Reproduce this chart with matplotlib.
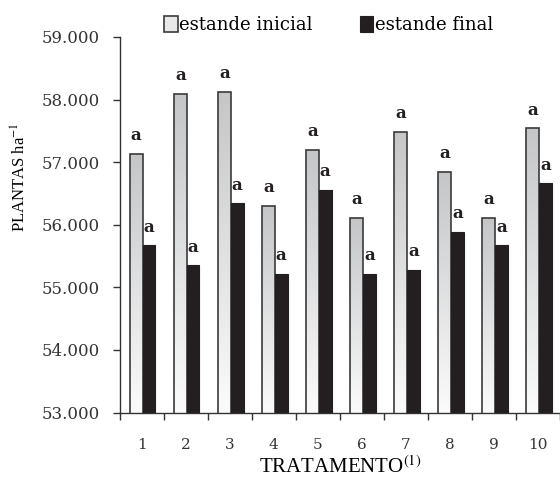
import numpy as np
import matplotlib.pyplot as plt
from matplotlib.colors import LinearSegmentedColormap
from matplotlib.ticker import FuncFormatter

# valores (plantas por hectare)
tratamentos = ['1', '2', '3', '4', '5', '6', '7', '8', '9', '10']
estande_inicial = [57130, 58090, 58120, 56300, 57200, 56110, 57480, 56840, 56110, 57540]
estande_final = [55670, 55350, 56340, 55220, 56560, 55220, 55280, 55890, 55670, 56660]
letras_inicial = ['a'] * 10
letras_final = ['a'] * 10

plt.rcParams['mathtext.fontset'] = 'stix'

fig = plt.figure(figsize=(5.6, 4.79), dpi=100)
ax = fig.add_axes([0.2134, 0.1388, 0.7866, 0.784])

x = np.arange(1, len(tratamentos) + 1)
w = 0.29

# barras do estande inicial (contorno, preenchidas depois com gradiente)
bars_ini = ax.bar(x - 0.12, estande_inicial, w, bottom=0, facecolor='none',
                  edgecolor='#3a3a3a', linewidth=1.2, zorder=3)
bars_fin = ax.bar(x + 0.17, estande_final, w, color='#231f20',
                  edgecolor='#231f20', linewidth=0.8, zorder=3)

# gradiente cinza -> branco dentro das barras iniciais
cmap = LinearSegmentedColormap.from_list('g', ['#fbfbfb', '#c4c6c8'])
grad = np.linspace(0, 1, 256).reshape(-1, 1)
for b in bars_ini:
    bb = b.get_bbox()
    im = ax.imshow(grad, extent=[bb.x0, bb.x1, 53000, bb.y1], origin='lower',
                   aspect='auto', cmap=cmap, vmin=0, vmax=1, zorder=2)
    im.set_clip_path(b)

# letras de significancia
for b, t in zip(bars_ini, letras_inicial):
    ax.annotate(t, (b.get_x() + b.get_width() / 2, b.get_height()),
                xytext=(0, 7), textcoords='offset points', ha='center',
                va='bottom', fontsize=12, fontweight='bold',
                family='DejaVu Serif', color='#231f20')
for b, t in zip(bars_fin, letras_final):
    ax.annotate(t, (b.get_x() + b.get_width() / 2, b.get_height()),
                xytext=(0, 7), textcoords='offset points', ha='center',
                va='bottom', fontsize=12, fontweight='bold',
                family='DejaVu Serif', color='#231f20')

ax.set_xlim(0.5, 10.455)
ax.set_ylim(53000, 59000)

ax.spines['top'].set_visible(False)
ax.spines['right'].set_visible(False)
for s in ['left', 'bottom']:
    ax.spines[s].set_color('#333333')
    ax.spines[s].set_linewidth(1.0)

ax.set_yticks(np.arange(53000, 59001, 1000))
ax.yaxis.set_major_formatter(FuncFormatter(lambda v, p: f'{int(v):,}'.replace(',', '.')))
ax.tick_params(axis='y', direction='out', length=5, width=1, color='#333333',
               pad=9, labelsize=12, labelcolor='#333333')
for lab in ax.get_yticklabels():
    lab.set_family('DejaVu Serif')

# marcas entre tratamentos, rotulos no centro
ax.set_xticks(np.arange(0.5, 11, 1))
ax.set_xticklabels([])
ax.set_xticks(x, tratamentos, minor=True)
ax.tick_params(axis='x', which='major', direction='out', length=5, width=1,
               color='#333333')
ax.tick_params(axis='x', which='minor', length=0, pad=18, labelsize=11,
               labelcolor='#333333')
for lab in ax.get_xticklabels(minor=True):
    lab.set_family('DejaVu Serif')

fig.text(20 / 560, 1 - 177 / 479, r'PLANTAS ha$^{-1}$', rotation=90,
         ha='center', va='center', fontsize=12, family='Liberation Serif')
fig.text(340 / 560, 0.012, r'TRATAMENTO$^{(1)}$', ha='center', va='baseline',
         fontsize=15, family='Liberation Serif')

leg = fig.legend([bars_ini[0], bars_fin[0]], ['estande inicial', 'estande final'],
                 loc='upper left', bbox_to_anchor=(164 / 560, 1 - 16 / 479),
                 ncol=2, frameon=False, handlelength=0.75, handleheight=1.0,
                 handletextpad=0.1, columnspacing=2.6, borderpad=0,
                 borderaxespad=0, prop={'family': 'DejaVu Serif', 'size': 13})
leg.get_patches()[0].set_facecolor('#e8e8e8')

fig.savefig('out.png', dpi=100)
